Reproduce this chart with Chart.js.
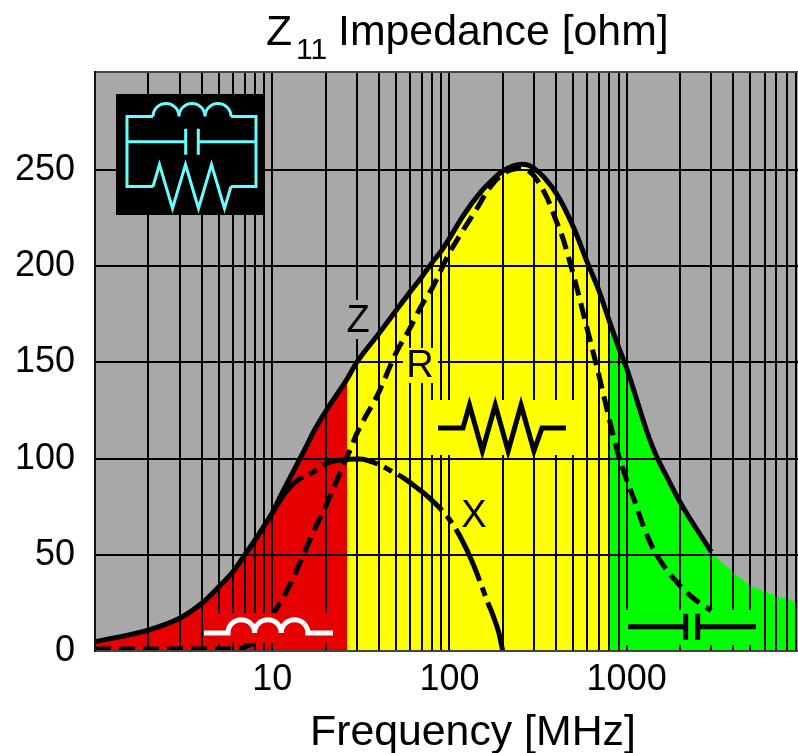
<!DOCTYPE html>
<html>
<head>
<meta charset="utf-8">
<title>Z11 Impedance</title>
<script src="https://cdn.jsdelivr.net/npm/chart.js@4"></script>
<style>
    html, body { margin: 0; padding: 0; background: #fff; }
    canvas { display: block; }
</style>
</head>
<body>
<canvas id="impedanceChart" width="798" height="753"></canvas>
<script>
// Values
const zFreq = [1, 2, 3, 4, 5, 6, 7, 8, 9, 10, 11, 15.7, 17, 20, 26.5, 30, 40, 50, 60, 70, 80, 90, 100, 120, 150, 175, 200, 256, 300, 400, 500, 600, 700, 792, 900, 1000, 1337, 1480, 1710, 2000, 3000, 4000, 4500, 5000, 6000, 7000, 8000, 9300];
const zValues = [4.8, 10.9, 17, 24.8, 33.4, 41.2, 50, 57.7, 65, 71.7, 79.5, 107, 113.5, 124.5, 141.5, 150, 165, 177, 186.7, 194.6, 202, 208, 214.5, 226.5, 238.5, 245, 249.5, 253, 251, 238, 220.5, 202, 187, 172.5, 158, 147, 111, 101, 89.5, 77.5, 51.6, 41, 37, 34, 31, 28.5, 27, 25];

const rFreq = [1, 2, 3, 4, 5, 6, 7, 8, 9, 10.9, 13, 15, 17.5, 20, 21.6, 24, 27.5, 30, 40, 50, 60, 70, 80, 100, 120, 145, 165, 200, 256, 300, 354, 403, 439, 469, 523, 595, 678, 755, 879, 1000, 1120, 1220, 1380, 1580, 2000, 2450, 3000];
const rValues = [1, 1, 1, 1, 1, 1.2, 2, 5, 12, 24, 37, 50, 64, 75, 82, 92, 104.5, 113, 134.6, 155, 168, 180, 188.7, 207, 219, 231, 239.6, 248, 251, 247, 236, 223, 214, 205, 189, 168.5, 148, 130, 105, 89, 77, 67, 55, 45.7, 34, 26.5, 21];

const xFreq = [10, 12, 14, 17, 19.5, 24, 31, 40, 46, 55, 68, 74, 96, 105, 115, 135, 155, 165, 176, 190, 200];
const xValues = [71.7, 83, 89, 93, 97, 99.3, 99.8, 97, 94, 90, 83.7, 81, 70.5, 65.5, 59.5, 46, 31.7, 25, 18.7, 9.5, 0];

// Where the curve changes from inductive to resistive to capacitive
const inductiveEnd = 26.5;
const resistiveEnd = 792;
const zLineEnd = 3000;

const gridFreqs = [1, 2, 3, 4, 5, 6, 7, 8, 9, 10, 20, 30, 40, 50, 60, 70, 80, 90, 100, 200, 300, 400, 500, 600, 700, 800, 900, 1000, 2000, 3000, 4000, 5000, 6000, 7000, 8000, 9000];
const freqLabels = [10, 100, 1000];
const yTicks = [0, 50, 100, 150, 200, 250];

const RED = '#e60000';
const YELLOW = '#ffff00';
const GREEN = '#00ff00';
const GRAY = '#a8a8a8';
const FONT = '"Liberation Sans", Arial, sans-serif';

function toPoints(freqs, values) {
    return freqs.map((f, i) => ({ x: f, y: values[i] }));
}

const zPoints = toPoints(zFreq, zValues);

// Filled band under the Z curve
function bandDataset(from, to, color) {
    return {
        data: zPoints.filter(p => p.x >= from && p.x <= to),
        borderWidth: 0,
        pointRadius: 0,
        fill: 'origin',
        backgroundColor: color,
        cubicInterpolationMode: 'monotone'
    };
}

// Curve on top of the grid
function curveDataset(points, dash, dashOffset) {
    return {
        data: points,
        borderColor: '#000',
        borderWidth: 5,
        borderDash: dash,
        borderDashOffset: dashOffset,
        pointRadius: 0,
        fill: false,
        cubicInterpolationMode: 'monotone'
    };
}

// Chart.js paints the datasets from the last one to the first
const zCurveIndex = 2;

// Draw a wire with three humps
function drawInductor(ctx, x0, x1, arcStart, y, r, color, width) {
    ctx.strokeStyle = color;
    ctx.lineWidth = width;
    ctx.beginPath();
    ctx.moveTo(x0, y);
    ctx.lineTo(arcStart, y);
    for (let i = 0; i < 3; i++) {
        ctx.arc(arcStart + r + i * 2 * r, y, r, Math.PI, 0);
    }
    ctx.lineTo(x1, y);
    ctx.stroke();
}

function drawCapacitor(ctx, x0, x1, plateA, plateB, y, half, color, width, plateWidth) {
    ctx.strokeStyle = color;
    ctx.lineWidth = width;
    ctx.beginPath();
    ctx.moveTo(x0, y);
    ctx.lineTo(plateA, y);
    ctx.moveTo(plateB, y);
    ctx.lineTo(x1, y);
    ctx.stroke();
    ctx.lineWidth = plateWidth;
    ctx.beginPath();
    ctx.moveTo(plateA, y - half);
    ctx.lineTo(plateA, y + half);
    ctx.moveTo(plateB, y - half);
    ctx.lineTo(plateB, y + half);
    ctx.stroke();
}

function drawResistor(ctx, x0, x1, start, end, y, step, rise, fall, color, width) {
    ctx.strokeStyle = color;
    ctx.lineWidth = width;
    ctx.lineJoin = 'miter';
    ctx.beginPath();
    ctx.moveTo(x0, y);
    ctx.lineTo(start, y);
    for (let i = 0; i < 3; i++) {
        ctx.lineTo(start + step * (0.5 + 2 * i), y - rise);
        ctx.lineTo(start + step * (1.5 + 2 * i), y + fall);
    }
    ctx.lineTo(end, y);
    ctx.lineTo(x1, y);
    ctx.stroke();
}

const impedancePlugin = {
    id: 'impedanceDecor',
    beforeDatasetsDraw(chart) {
        const { ctx, chartArea: a } = chart;
        ctx.save();
        ctx.fillStyle = GRAY;
        ctx.fillRect(a.left, a.top, a.right - a.left, a.bottom - a.top);
        ctx.restore();
    },
    // Grid goes over the bands but under the curves
    beforeDatasetDraw(chart, args) {
        if (args.index !== zCurveIndex) return;
        const { ctx, chartArea: a } = chart;
        chart.scales.x.drawGrid(a);
        chart.scales.y.drawGrid(a);
        ctx.save();
        ctx.fillStyle = '#444';
        ctx.fillRect(a.left, a.top - 1, a.right - a.left, 2);
        // Cut the grid around the symbols and labels
        ctx.fillStyle = YELLOW;
        ctx.fillRect(426, 400, 152, 55);
        ctx.fillRect(403, 348, 35, 35);
        ctx.fillStyle = GREEN;
        ctx.fillRect(622, 610, 136, 35);
        ctx.fillStyle = GRAY;
        ctx.fillRect(345, 300, 28, 39);
        ctx.restore();
    },
    afterDatasetsDraw(chart) {
        const ctx = chart.ctx;
        ctx.save();

        // The inductor box also hides the low end of the R curve
        ctx.fillStyle = RED;
        ctx.fillRect(205, 613, 126, 30);

        // Circuit inset
        ctx.fillStyle = '#000';
        ctx.fillRect(116, 94, 149, 121);
        const cyan = '#66ffff';
        ctx.strokeStyle = cyan;
        ctx.lineWidth = 3;
        ctx.beginPath();
        ctx.moveTo(153, 116.5);
        ctx.lineTo(127, 116.5);
        ctx.lineTo(127, 186.5);
        ctx.lineTo(153, 186.5);
        ctx.moveTo(231, 116.5);
        ctx.lineTo(256, 116.5);
        ctx.lineTo(256, 186.5);
        ctx.lineTo(231, 186.5);
        ctx.stroke();
        drawInductor(ctx, 153, 231, 153, 116.5, 13, cyan, 3);
        drawCapacitor(ctx, 127, 256, 185.7, 198.3, 141.7, 13, cyan, 3, 3);
        drawResistor(ctx, 153, 231, 153, 231, 186.5, 13, 22, 22, cyan, 3);

        // Region symbols
        drawInductor(ctx, 204, 333, 228, 633, 13.3, '#fff', 5);
        drawResistor(ctx, 438, 566, 463, 542, 428, 12.9, 23, 23, '#000', 5);
        drawCapacitor(ctx, 628, 756, 685.7, 697.7, 626.7, 13, '#000', 5, 5);

        // Curve names
        ctx.fillStyle = '#000';
        ctx.font = '38px ' + FONT;
        ctx.textAlign = 'center';
        ctx.textBaseline = 'alphabetic';
        ctx.fillText('Z', 358, 332);
        ctx.fillText('R', 420, 377);
        ctx.fillText('X', 474, 527);

        // Title with subscript
        ctx.textAlign = 'left';
        ctx.font = '42.8px ' + FONT;
        ctx.fillText('Z', 266, 45);
        ctx.fillText('Impedance [ohm]', 338, 45);
        ctx.fillText('Frequency [MHz]', 310, 745);
        ctx.font = '30px ' + FONT;
        ctx.fillText('11', 296, 59);
        ctx.restore();
    }
};

new Chart(document.getElementById('impedanceChart'), {
    type: 'line',
    data: {
        datasets: [
            curveDataset(toPoints(xFreq, xValues), [57, 7, 9, 7], 9),
            curveDataset(toPoints(rFreq, rValues), [16, 8], 0),
            curveDataset(zPoints.filter(p => p.x <= zLineEnd), [], 0),
            bandDataset(resistiveEnd, 9300, GREEN),
            bandDataset(inductiveEnd, resistiveEnd, YELLOW),
            bandDataset(1, inductiveEnd, RED)
        ]
    },
    plugins: [impedancePlugin],
    options: {
        responsive: false,
        animation: false,
        layout: { padding: { top: 72, right: 0, left: 0, bottom: 0 } },
        plugins: {
            legend: { display: false },
            tooltip: { enabled: false }
        },
        scales: {
            x: {
                type: 'logarithmic',
                min: 1,
                max: 9270,
                afterBuildTicks: scale => {
                    scale.ticks = gridFreqs.map(value => ({ value }));
                },
                afterFit: scale => {
                    scale.height = 102;
                    scale.paddingRight = 0;
                    scale.paddingLeft = 0;
                },
                grid: { color: '#000', lineWidth: 2, drawTicks: false },
                border: { display: true, color: '#444', width: 2, z: 1 },
                ticks: {
                    autoSkip: false,
                    maxRotation: 0,
                    padding: 7,
                    color: '#000',
                    font: { family: FONT, size: 36 },
                    callback: value => freqLabels.includes(value) ? String(value) : ''
                }
            },
            y: {
                type: 'linear',
                min: 0,
                max: 301,
                afterBuildTicks: scale => {
                    scale.ticks = yTicks.map(value => ({ value }));
                },
                afterFit: scale => { scale.width = 95; },
                grid: { color: '#000', lineWidth: 2, drawTicks: false },
                border: { display: true, color: '#111', width: 2, z: 1 },
                ticks: {
                    padding: 20,
                    color: '#000',
                    font: { family: FONT, size: 36 }
                }
            }
        }
    }
});
</script>
</body>
</html>
